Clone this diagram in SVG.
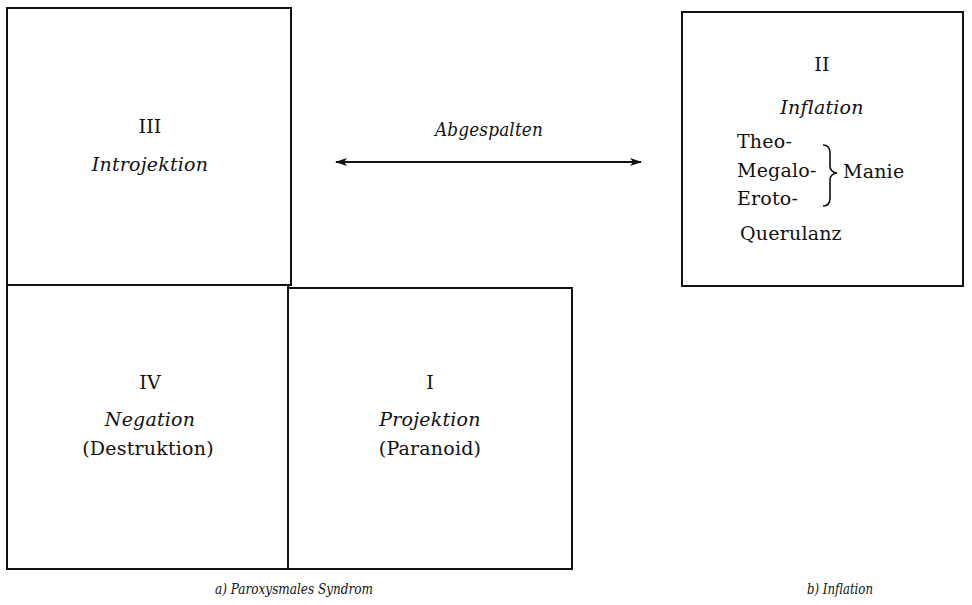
<svg xmlns="http://www.w3.org/2000/svg" width="972" height="605" viewBox="0 0 972 605">
  <style>
    .box { fill: none; stroke: #111; stroke-width: 2; }
    text { font-family: 'DejaVu Serif', 'Liberation Serif', serif; fill: #111; }
    .t { font-size: 19px; letter-spacing: 0.2px; }
    .i { font-style: italic; }
    .c { text-anchor: middle; }
    .cap { font-size: 15px; font-style: italic; text-anchor: middle; }
    .conn { stroke: #111; stroke-width: 1.8; fill: none; }
  </style>
  <defs>
    <marker id="ah" viewBox="0 0 12 8" refX="11" refY="4" markerWidth="12" markerHeight="8" markerUnits="userSpaceOnUse" orient="auto-start-reverse">
      <path d="M0,0 L12,4 L0,8 L3,4 Z" fill="#111"/>
    </marker>
  </defs>
  <rect width="972" height="605" fill="#fff"/>

  <!-- a) paroxysmal syndrome: three quadrants -->
  <g id="node-III">
    <rect class="box" x="7" y="8" width="284" height="277"/>
    <text class="t c" x="150" y="133">III</text>
    <text class="t i c" x="150" y="171">Introjektion</text>
  </g>
  <g id="node-IV">
    <rect class="box" x="7" y="285" width="281" height="284"/>
    <text class="t c" x="150" y="389">IV</text>
    <text class="t i c" x="150" y="426">Negation</text>
    <text class="t c" x="148" y="455">(Destruktion)</text>
  </g>
  <g id="node-I">
    <rect class="box" x="288" y="288" width="284" height="281"/>
    <text class="t c" x="430" y="389">I</text>
    <text class="t i c" x="430" y="426">Projektion</text>
    <text class="t c" x="430" y="455">(Paranoid)</text>
  </g>

  <!-- b) inflation -->
  <g id="node-II">
    <rect class="box" x="682" y="12" width="281" height="274"/>
    <text class="t c" x="822" y="71">II</text>
    <text class="t i c" x="822" y="114">Inflation</text>
    <text class="t" x="737" y="148">Theo-</text>
    <text class="t" x="737" y="177">Megalo-</text>
    <text class="t" x="737" y="205">Eroto-</text>
    <text class="t" x="740" y="240">Querulanz</text>
    <path d="M823,145 Q830,145 830,153 L830,166 Q830,172 837,173 Q830,174 830,180 L830,198 Q830,206 823,206" fill="none" stroke="#111" stroke-width="1.6"/>
    <text class="t" x="843" y="178">Manie</text>
  </g>

  <g id="connectors">
    <line class="conn" x1="336" y1="162" x2="641" y2="162" marker-start="url(#ah)" marker-end="url(#ah)"/>
    <text class="t i c" x="489" y="136" textLength="108" lengthAdjust="spacingAndGlyphs">Abgespalten</text>
  </g>

  <text class="cap" x="294" y="594" textLength="158" lengthAdjust="spacingAndGlyphs">a) Paroxysmales Syndrom</text>
  <text class="cap" x="840" y="594" textLength="66" lengthAdjust="spacingAndGlyphs">b) Inflation</text>
</svg>
